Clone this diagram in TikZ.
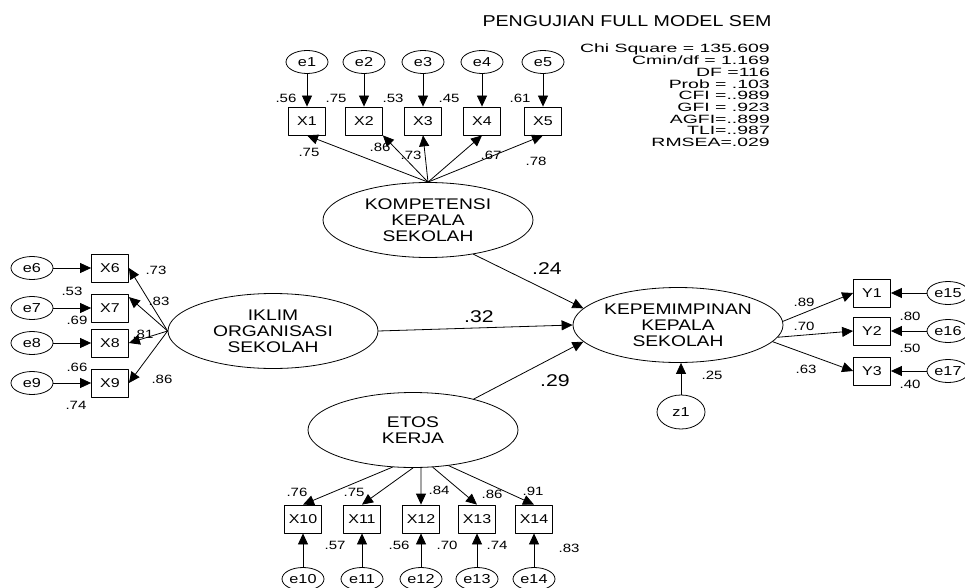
\documentclass[tikz,border=0pt]{standalone}
\usepackage{fontspec}
\setmainfont{Liberation Sans}[FakeStretch=1.25]
\newfontfamily\statfont{Liberation Sans}[FakeStretch=1.62]
\usetikzlibrary{shapes.geometric,arrows.meta}

\tikzset{
  obs/.style={draw, line width=0.8pt, minimum width=37pt, minimum height=28pt, inner sep=0pt, font=\fontsize{12.8}{14}\selectfont},
  err/.style={draw, ellipse, line width=0.8pt, minimum width=42pt, minimum height=23pt, inner sep=0pt, font=\fontsize{13}{14}\selectfont},
  lat/.style={draw, ellipse, line width=0.8pt, minimum width=210pt, minimum height=75pt, inner sep=0pt, align=center, font=\fontsize{15.4}{16}\selectfont},
  arr/.style={line width=0.8pt, -{Triangle[length=11pt,width=10pt]}},
  est/.style={inner sep=0pt, font=\fontsize{12}{12}\selectfont},
  coef/.style={inner sep=0pt, font=\fontsize{17}{18}\selectfont},
  stat/.style={inner sep=0pt, anchor=base east, font=\statfont\fontsize{12}{12}\selectfont}
}

\begin{document}
\begin{tikzpicture}[x=1pt,y=-1pt,line cap=round,line join=round]
  \useasboundingbox (0,0) rectangle (965,588);
  % judul dan fit
  \node[inner sep=0pt, font=\fontsize{15.7}{16}\selectfont] (title) at (627,21) {PENGUJIAN FULL MODEL SEM};
  \foreach \t [count=\k] in {Chi Square = 135.609, Cmin/df = 1.169, DF =116, Prob = .103, CFI =..989, GFI = .923, AGFI=..899, TLI=..987, RMSEA=.029}
    \node[stat] (fit\k) at (770,{53+11.7*(\k-1)}) {\t};
  % variabel laten
  \node[lat] (K) at (428,220) {KOMPETENSI\\KEPALA\\SEKOLAH};
  \node[lat] (IO) at (273,331) {IKLIM\\ORGANISASI\\SEKOLAH};
  \node[lat] (KEP) at (678,325) {KEPEMIMPINAN\\KEPALA\\SEKOLAH};
  \node[lat] (ET) at (413,430) {ETOS\\KERJA};
  \node[err, minimum width=48pt, minimum height=34pt] (z1) at (681,412) {z1};
  % indikator kompetensi
  \foreach \i/\x in {1/307,2/364,3/423,4/482,5/543} {
    \node[obs] (X\i) at (\x,121) {X\i};
    \node[err] (e\i) at (\x,62) {e\i};
    \draw[arr] (e\i) -- (X\i);
  }
  \foreach \i/\a in {1/south,2/south east,3/south,4/south,5/south}
    \draw[arr] (K.north) -- (X\i.\a);
  % indikator iklim
  \foreach \i/\y in {6/268,7/308,8/343,9/383} {
    \node[obs] (X\i) at (110,\y) {X\i};
    \node[err] (e\i) at (32,\y) {e\i};
    \draw[arr] (e\i) -- (X\i);
  }
  \foreach \i/\a in {6/east,7/30,8/east,9/east}
    \draw[arr] (IO.west) -- (X\i.\a);
  % indikator etos
  \foreach \i/\x in {10/303,11/362,12/421,13/477,14/534} {
    \node[obs] (X\i) at (\x,519) {X\i};
    \node[err] (e\i) at (\x,579) {e\i};
    \draw[arr] (e\i) -- (X\i);
  }
  \foreach \i/\a in {10/-119,11/-90,12/-78,13/-62,14/-45}
    \draw[arr] (ET.\a) -- (X\i.north);
  % indikator kepemimpinan
  \foreach \i/\j/\y in {1/15/293,2/16/331,3/17/371} {
    \node[obs] (Y\i) at (872,\y) {Y\i};
    \node[err] (e\j) at (948,\y) {e\j};
    \draw[arr] (e\j) -- (Y\i);
  }
  \foreach \i/\a in {1/2,2/-7,3/-10}
    \draw[arr] (KEP.\a) -- (Y\i.west);
  % jalur struktural
  \draw[arr] (K.-37) -- (KEP.170);
  \draw[arr] (IO.east) -- (KEP.west);
  \draw[arr] (ET.27) -- (KEP.190);
  \draw[arr] (z1.north) -- (z1.north |- KEP.south);
  \node[coef] (b1) at (547,269) {.24};
  \node[coef] (b2) at (479,317) {.32};
  \node[coef] (b3) at (555,381) {.29};
  % estimasi
  \foreach \t/\x/\y [count=\k] in {.56/286/98,.75/336/98,.53/393/98,.45/449/98,.61/520/98,
      .75/309/152,.86/380/147,.73/411/155,.67/491/155,.78/536/161,
      .73/156/270,.83/159/301,.81/143/334,.86/162/379,.53/72/291,.69/77/320,.66/77/367,.74/76/405,
      .76/297/492,.75/354/492,.84/439/490,.86/492/494,.91/533/491,
      .57/335/545,.56/399/545,.70/447/545,.74/497/545,.83/569/548,
      .89/804/302,.70/804/326,.63/806/369,.80/910/316,.50/910/348,.40/910/384,.25/712/375}
    \node[est] (r\k) at (\x,\y) {\t};
\end{tikzpicture}
\end{document}
